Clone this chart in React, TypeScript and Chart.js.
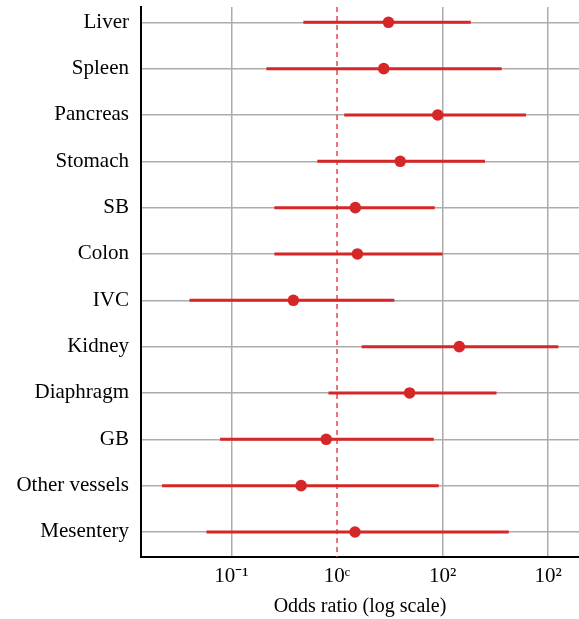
import React, { useEffect, useRef } from "react";
import { Chart, registerables } from "chart.js";

Chart.register(...registerables);

const categories = [
  "Liver", "Spleen", "Pancreas", "Stomach", "SB", "Colon", "IVC",
  "Kidney", "Diaphragm", "GB", "Other vessels", "Mesentery",
];
const oddsRatio = [3.07, 2.77, 9.0, 3.97, 1.49, 1.56, 0.386, 14.4, 4.87, 0.79, 0.457, 1.48];
const ciLower = [0.48, 0.214, 1.17, 0.65, 0.255, 0.255, 0.04, 1.71, 0.83, 0.078, 0.022, 0.058];
const ciUpper = [18.5, 36.3, 61.7, 25.2, 8.43, 10.0, 3.49, 125, 32.4, 8.25, 9.2, 42.4];
const xTickValues = [0.1, 1, 10, 100];
const xTickLabels = ["10\u207B\u00B9", "10\u1D9C", "10\u00B2", "10\u00B2"];
const xAxisTitle = "Odds ratio (log scale)";
const referenceValue = 1;

const RED = "#d62728";
const GRID = "#acacac";
const FONT = "'Liberation Serif', 'Times New Roman', serif";

export default function App() {
  const ref = useRef<HTMLCanvasElement | null>(null);
  useEffect(() => {
    if (!ref.current) return;
    const yMin = -0.33;
    const yMax = 11.54;
    const ciSets = categories.map((_, i) => ({
      type: "line" as const,
      data: [
        { x: ciLower[i], y: i },
        { x: ciUpper[i], y: i },
      ],
      borderColor: RED,
      borderWidth: 3,
      pointRadius: 0,
      fill: false,
      order: 2,
    }));
    const chart = new Chart(ref.current, {
      type: "scatter",
      data: {
        datasets: [
          {
            type: "line",
            data: [
              { x: referenceValue, y: yMin },
              { x: referenceValue, y: yMax },
            ],
            borderColor: "#e5474a",
            borderWidth: 1.5,
            borderDash: [5, 4],
            pointRadius: 0,
            fill: false,
            order: 3,
          },
          ...ciSets,
          {
            type: "scatter",
            data: oddsRatio.map((v, i) => ({ x: v, y: i })),
            backgroundColor: RED,
            borderColor: RED,
            pointRadius: 5.8,
            borderWidth: 0,
            order: 1,
          },
        ] as any,
      },
      options: {
        animation: false,
        responsive: false,
        maintainAspectRatio: false,
        layout: { autoPadding: false, padding: { top: 7, right: 0, left: 0, bottom: 0 } },
        plugins: {
          legend: { display: false },
          tooltip: { enabled: false },
        },
        scales: {
          x: {
            type: "logarithmic",
            min: 0.0139,
            max: 196,
            afterBuildTicks: (scale: any) => {
              scale.ticks = xTickValues.map((v) => ({ value: v }));
            },
            afterFit: (scale: any) => {
              scale.height = 62;
              scale.paddingLeft = 0;
              scale.paddingRight = 0;
            },
            ticks: {
              autoSkip: false,
              maxRotation: 0,
              padding: 7,
              color: "#000",
              font: { family: FONT, size: 21 },
              callback: (v: any) => {
                const idx = xTickValues.findIndex((t) => Math.abs(t - Number(v)) < 1e-9);
                return idx >= 0 ? xTickLabels[idx] : "";
              },
            },
            grid: {
              color: (ctx: any) =>
                ctx.tick && Math.abs(ctx.tick.value - referenceValue) < 1e-9 ? "rgba(0,0,0,0)" : GRID,
              lineWidth: 1.5,
              drawTicks: false,
            },
            border: { display: true, color: "#000", width: 2 },
            title: {
              display: true,
              text: xAxisTitle,
              color: "#000",
              font: { family: FONT, size: 20 },
              padding: { top: 3, bottom: 0 },
            },
          },
          y: {
            type: "linear",
            reverse: true,
            min: yMin,
            max: yMax,
            afterBuildTicks: (scale: any) => {
              scale.ticks = categories.map((_, i) => ({ value: i }));
            },
            afterFit: (scale: any) => {
              scale.width = 141;
              scale.paddingTop = 0;
              scale.paddingBottom = 0;
            },
            ticks: {
              autoSkip: false,
              padding: 12,
              color: "#000",
              font: { family: FONT, size: 21 },
              callback: (v: any) => categories[Math.round(Number(v))] ?? "",
            },
            grid: { color: GRID, lineWidth: 1.5, drawTicks: false },
            border: { display: true, color: "#000", width: 2 },
          },
        },
      },
    });
    return () => chart.destroy();
  }, []);
  return (
    <div style={{ position: "absolute", left: 0, top: 0, width: 579, height: 619, background: "#fff" }}>
      <canvas ref={ref} width={579} height={619} style={{ width: 579, height: 619 }} />
    </div>
  );
}
